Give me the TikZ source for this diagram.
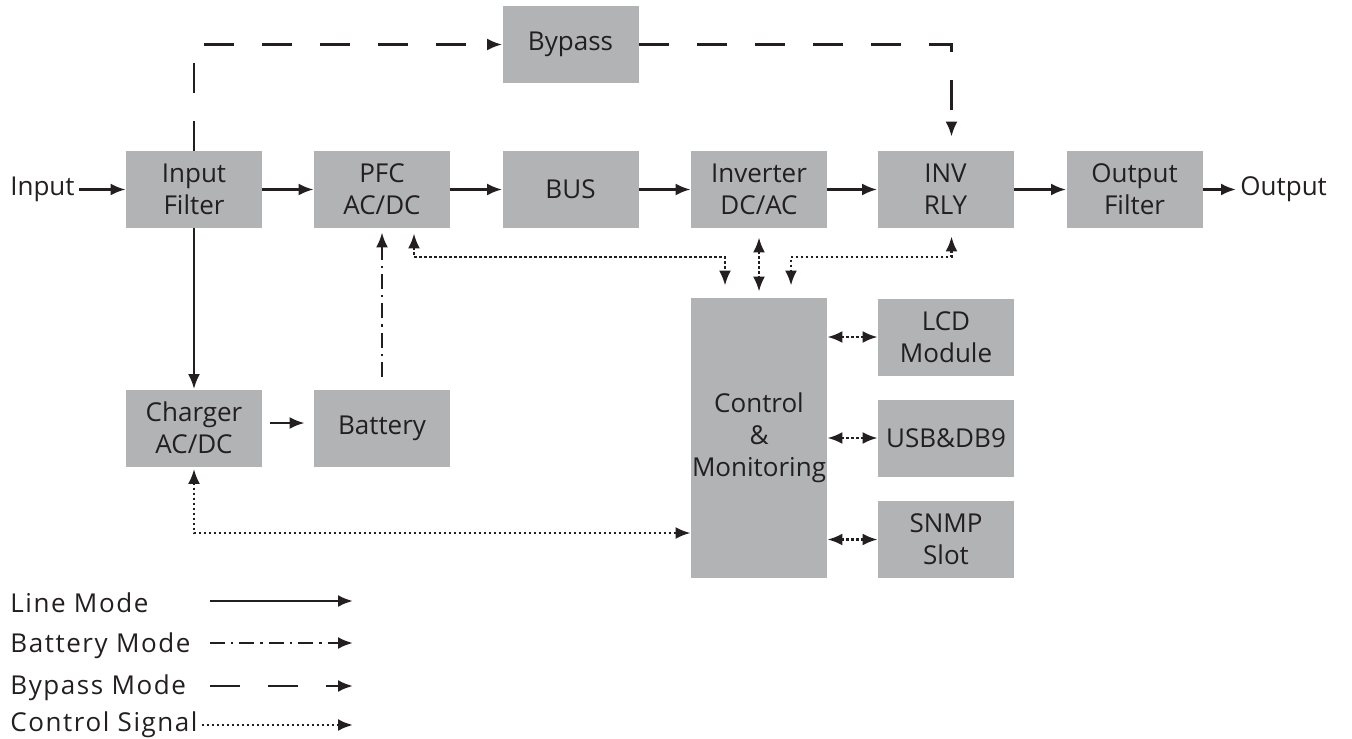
\documentclass[tikz,border=0pt]{standalone}
\usepackage{fontspec}
\setmainfont{Open Sans}
\usetikzlibrary{arrows.meta}
\definecolor{boxgray}{RGB}{177,179,180}
\definecolor{ink}{RGB}{35,31,32}

\begin{document}
\begin{tikzpicture}[x=0.5pt, y=-0.5pt, >={Latex[length=7.5pt,width=6pt]},
  box/.style={fill=boxgray, minimum width=68pt, minimum height=38.5pt, inner sep=0pt, align=center, text=ink, font=\fontsize{13}{16}\selectfont},
  tallbox/.style={box, minimum height=140pt},
  lbl/.style={text=ink, inner sep=2pt, font=\fontsize{13}{16}\selectfont},
  legtext/.style={lbl, font=\fontsize{13}{16}\selectfont\addfontfeature{LetterSpace=6}},
  linemode/.style={draw=ink, line width=1.3pt, ->},
  battmode/.style={draw=ink, line width=1.3pt, ->, dash pattern=on 7.5pt off 3pt on 1.2pt off 3pt},
  bypmode/.style={draw=ink, line width=1.3pt, ->, dash pattern=on 15pt off 14pt},
  sigline/.style={draw=ink, line width=1.3pt, dash pattern=on 1.2pt off 1.3pt}]

  \useasboundingbox (0,0) rectangle (1352,738);

  % power path
  \node[box] (bypass) at (570.5,44.5) {Bypass};
  \node[box] (infilter) at (194,189.5) {Input\\Filter};
  \node[box] (pfc) at (382,189.5) {PFC\\AC/DC};
  \node[box] (bus) at (570.5,189.5) {BUS};
  \node[box] (inverter) at (759,189.5) {Inverter\\DC/AC};
  \node[box] (invrly) at (945.5,189.5) {INV\\RLY};
  \node[box] (outfilter) at (1134.5,189.5) {Output\\Filter};
  \node[lbl, anchor=east] (input) at (79,189.5) {Input};
  \node[lbl, anchor=west] (output) at (1236,189.5) {Output};

  \node[box] (charger) at (194,428) {Charger\\AC/DC};
  \node[box] (battery) at (382,428) {Battery};

  % control side
  \node[tallbox] (control) at (759,438) {Control\\\&\\Monitoring};
  \node[box] (lcd) at (946,337) {LCD\\Module};
  \node[box] (usb) at (946,438) {USB\&DB9};
  \node[box] (snmp) at (946,539.5) {SNMP\\Slot};

  \draw[linemode] (input) -- (infilter);
  \draw[linemode] (infilter) -- (pfc);
  \draw[linemode] (pfc) -- (bus);
  \draw[linemode] (bus) -- (inverter);
  \draw[linemode] (inverter) -- (invrly);
  \draw[linemode] (invrly) -- (outfilter);
  \draw[linemode] (outfilter) -- (output);
  \draw[linemode] (infilter) -- (charger);
  \draw[linemode, shorten <=4pt, shorten >=4.5pt] ([yshift=2.5pt]charger.east) -- ([yshift=2.5pt]battery.west);

  \draw[battmode, shorten <=6pt, shorten >=2pt] (battery) -- (pfc);

  \draw[bypmode] (infilter.north) |- (bypass.west);
  \draw[bypmode, shorten >=7pt] (bypass.east) -| ([xshift=3pt]invrly.north);

  % control signals
  \coordinate (sigrow) at (0,257);
  \draw[sigline, <->, shorten <=2.5pt, shorten >=6pt] ([xshift=16pt]pfc.south) -- ([xshift=16pt]pfc.south |- sigrow) -| ([xshift=-17pt]control.north);
  \draw[sigline, <->, shorten <=4.5pt, shorten >=3pt] (inverter.south) -- (control.north);
  \draw[sigline, <->, shorten <=4pt, shorten >=6pt] ([xshift=3pt]invrly.south) -- ([xshift=3pt]invrly.south |- sigrow) -| ([xshift=16pt]control.north);
  \draw[sigline, <->, shorten <=1pt] (charger.south) |- ([yshift=-47.5pt]control.west);
  \foreach \p in {lcd,usb,snmp}
    \draw[sigline, <->] (control.east |- \p.west) -- (\p.west);

  % legend
  \node[legtext, anchor=base west] (lgline) at (6,612) {Line Mode};
  \node[legtext, anchor=base west] (lgbatt) at (6,652) {Battery Mode};
  \node[legtext, anchor=base west] (lgbyp) at (6,694) {Bypass Mode};
  \node[legtext, anchor=base west] (lgsig) at (6,731) {Control Signal};
  \coordinate (lgA) at (210,601);
  \coordinate (lgB) at (353,601);
  \coordinate (lgC) at (210,643);
  \coordinate (lgD) at (353,643);
  \coordinate (lgE) at (210,686);
  \coordinate (lgF) at (353,686);
  \coordinate (lgG) at (lgsig.east |- 0,725);
  \coordinate (lgH) at (353,725);
  \draw[linemode] (lgA) -- (lgB);
  \draw[battmode] (lgC) -- (lgD);
  \draw[bypmode] (lgE) -- (lgF);
  \draw[sigline, ->] (lgG) -- (lgH);
\end{tikzpicture}
\end{document}
